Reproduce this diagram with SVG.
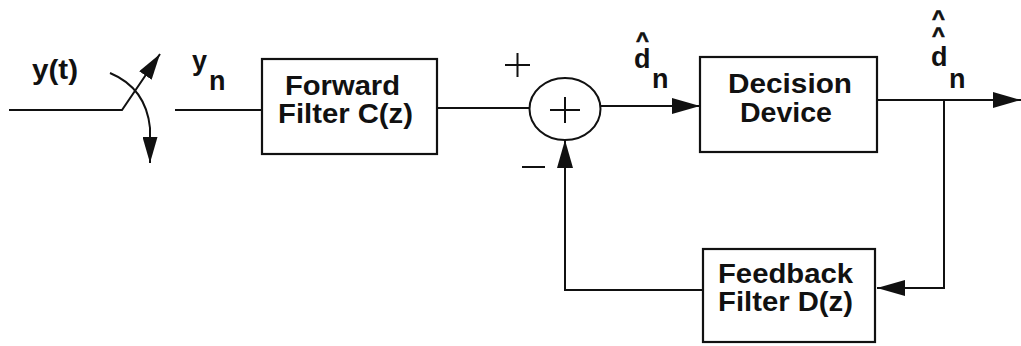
<svg xmlns="http://www.w3.org/2000/svg" width="1021" height="346" viewBox="0 0 1021 346">
  <style>
    .ln { fill: none; stroke: #111; stroke-width: 2; }
    .box { fill: #fff; stroke: #111; stroke-width: 2.2; }
    .t { font-family: "Liberation Sans", Arial, sans-serif; font-weight: bold; fill: #111; }
    .bt { font-size: 27px; }
    .lb { font-size: 27px; }
    .hat { font-size: 22px; stroke: #111; stroke-width: 0.7; }
  </style>
  <defs>
    <marker id="ah" viewBox="0 0 28 16" refX="28" refY="8" markerWidth="28" markerHeight="16" orient="auto" markerUnits="userSpaceOnUse">
      <path d="M0,0 L28,8 L0,16 z" fill="#111"/>
    </marker>
    <marker id="ahs" viewBox="0 0 26 15" refX="26" refY="7.5" markerWidth="26" markerHeight="15" orient="auto" markerUnits="userSpaceOnUse">
      <path d="M0,0 L26,7.5 L0,15 z" fill="#111"/>
    </marker>
  </defs>

  <g id="connectors">
    <path class="ln" d="M9,110 L122,110 L160,54" marker-end="url(#ahs)"/>
    <path class="ln" d="M110,73 Q146,88 150,128 L150,163" marker-end="url(#ahs)"/>
    <path class="ln" d="M175,110 L262,110"/>
    <path class="ln" d="M437,108 L529,108"/>
    <path class="ln" d="M600,106 L700,106" marker-end="url(#ah)"/>
    <path class="ln" d="M877,100 L1021,100" marker-end="url(#ah)"/>
    <path class="ln" d="M944,100 L944,288 L877,288" marker-end="url(#ah)"/>
    <path class="ln" d="M703,290 L565,290 L565,140" marker-end="url(#ah)"/>
  </g>

  <g id="labels">
    <text class="t lb" x="32" y="79" textLength="46" lengthAdjust="spacingAndGlyphs">y(t)</text>
    <text class="t lb" x="192" y="70">y</text>
    <text class="t lb" x="209" y="90">n</text>
    <text class="t hat" x="636" y="48">^</text>
    <text class="t lb" x="634" y="68">d</text>
    <text class="t lb" x="652" y="88">n</text>
    <text class="t hat" x="932" y="26">^</text>
    <text class="t hat" x="932" y="43">^</text>
    <text class="t lb" x="931" y="66">d</text>
    <text class="t lb" x="949" y="88">n</text>
  </g>

  <g id="forward">
    <rect class="box" x="262" y="59" width="175" height="95"/>
    <text class="t bt" x="285" y="95" textLength="115" lengthAdjust="spacingAndGlyphs">Forward</text>
    <text class="t bt" x="278" y="123" textLength="135" lengthAdjust="spacingAndGlyphs">Filter C(z)</text>
  </g>

  <g id="summer">
    <ellipse cx="565" cy="109" rx="35.5" ry="31" fill="#fff" stroke="#111" stroke-width="2"/>
    <path class="ln" d="M550,110 L580,110 M565,97 L565,123"/>
    <path class="ln" d="M505,65 L530,65 M517.5,53 L517.5,77"/>
    <path class="ln" d="M522,167 L545,167"/>
  </g>

  <g id="decision">
    <rect class="box" x="700" y="57" width="177" height="95"/>
    <text class="t bt" x="728" y="93" textLength="124" lengthAdjust="spacingAndGlyphs">Decision</text>
    <text class="t bt" x="740" y="122" textLength="92" lengthAdjust="spacingAndGlyphs">Device</text>
  </g>

  <g id="feedback">
    <rect class="box" x="703" y="249" width="172" height="93"/>
    <text class="t bt" x="718" y="283" textLength="135" lengthAdjust="spacingAndGlyphs">Feedback</text>
    <text class="t bt" x="718" y="311" textLength="135" lengthAdjust="spacingAndGlyphs">Filter D(z)</text>
  </g>
</svg>
